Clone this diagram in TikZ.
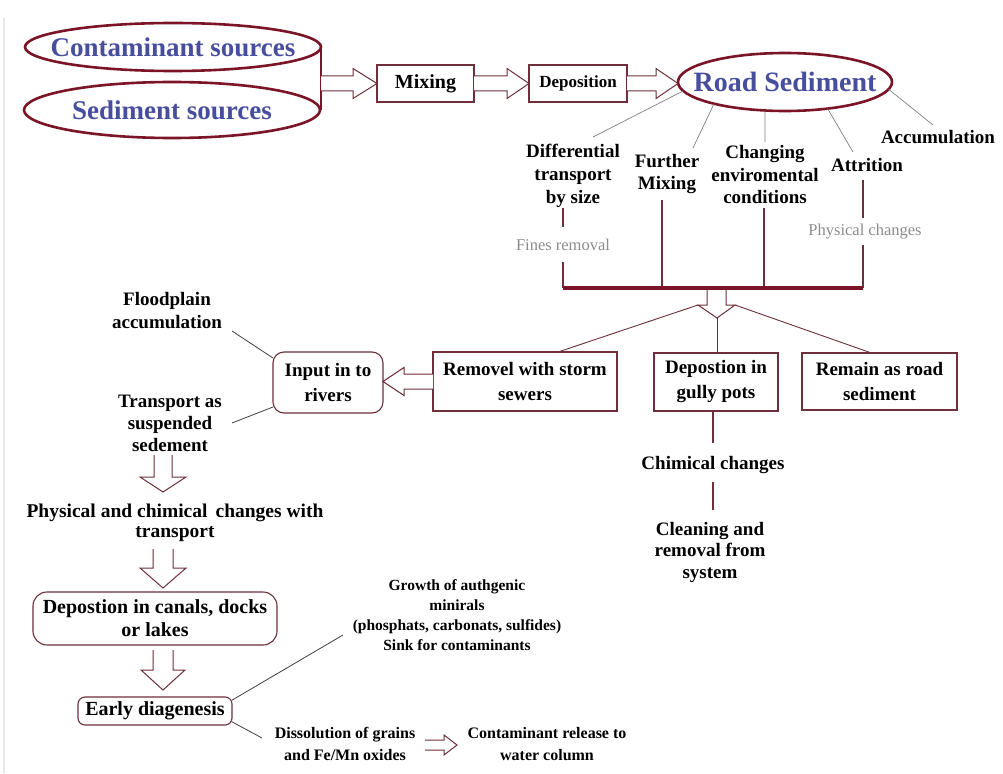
\documentclass[tikz,border=0pt]{standalone}
\usepackage{fontspec}
\setmainfont{Liberation Serif}
\usetikzlibrary{shapes.geometric,calc}
\definecolor{dred}{RGB}{122,20,38}
\definecolor{bred}{RGB}{110,47,58}
\definecolor{sblue}{RGB}{72,78,158}
\definecolor{lgray}{RGB}{140,140,140}
\newcommand\fs[2]{\fontsize{#1}{#2}\selectfont}
% hollow block arrow: #1 start, #2 tip, #3 shaft half width, #4 head half width, #5 head length
\newcommand\blockarr[5]{%
  \coordinate (hb) at ($(#2)!#5pt!(#1)$);
  \draw[harr] ($(#1)!#3pt!90:(#2)$) -- ($(hb)!#3pt!90:(#2)$) -- ($(hb)!#4pt!90:(#2)$) -- (#2)
    -- ($(hb)!#4pt!-90:(#2)$) -- ($(hb)!#3pt!-90:(#2)$) -- ($(#1)!#3pt!-90:(#2)$);
}
\tikzset{
 srcell/.style={ellipse, draw=dred, line width=2.6pt, inner sep=0pt, outer sep=0pt},
 etext/.style={inner sep=0pt, text=sblue, font=\fs{27}{30}\bfseries},
 box/.style={draw=bred, line width=1.1pt, inner sep=0pt, outer sep=0pt, align=center, font=\fs{19}{25}\bfseries},
 rbox/.style={box, rounded corners=11pt},
 lbl/.style={inner sep=0pt, align=center, font=\fs{19}{23}\bfseries},
 glbl/.style={inner sep=0pt, text=lgray, font=\fs{16.5}{20}},
 gline/.style={draw=gray, line width=0.7pt},
 dline/.style={draw=black!75, line width=0.8pt},
 vline/.style={draw=bred, line width=1.1pt},
 busline/.style={draw=dred, line width=3.5pt},
 harr/.style={draw=bred, line width=1pt, fill=white, line join=miter},
}
\begin{document}
\begin{tikzpicture}[x=1pt,y=-1pt]
\useasboundingbox (0,0) rectangle (1003,773);
\fill[white] (0,0) rectangle (1003,773);
\draw[gray!18, line width=2pt] (4,18) -- (4,773);

% sources
\node[srcell, minimum width=296pt, minimum height=48pt] (cs) at (173,47) {};
\node[etext] (cst) at (cs.center) {Contaminant sources};
\node[srcell, minimum width=296pt, minimum height=56pt] (ss) at (172,110) {};
\node[etext] (sst) at (ss.center) {Sediment sources};
\draw[dred, line width=2.6pt] (cs.east) -- (cs.east |- ss.east);

\node[box, minimum width=97pt, minimum height=37pt, font=\fs{20}{24}\bfseries] (mix) at (425.5,83.5) {Mixing};
\node[box, minimum width=98pt, minimum height=37pt, font=\fs{17}{20}\bfseries] (dep) at (578,83.5) {Deposition};
\node[srcell, minimum width=214pt, minimum height=58pt] (rs) at (785,82) {};
\node[etext, font=\fs{28}{30}\bfseries] (rst) at (rs.center) {Road Sediment};

\coordinate (a1s) at (mix.west -| cs.east);
\blockarr{a1s}{mix.west}{7.5}{15}{24}
\blockarr{mix.east}{dep.west}{7.5}{15}{22}
\coordinate (a3e) at (rs.west |- dep.east);
\blockarr{dep.east}{a3e}{7.5}{15}{22}

% labels around road sediment
\node[lbl] (dts) at (573,176) {Differential\\transport\\by size};
\node[lbl, font=\fs{19}{22}\bfseries] (fm) at (667,174) {Further\\Mixing};
\node[lbl, font=\fs{19}{22.5}\bfseries] (cec) at (765,175) {Changing\\enviromental\\conditions};
\node[lbl] (att) at (867,165) {Attrition};
\node[lbl] (acc) at (938,137) {Accumulation};
\node[glbl] (fr) at (563,245) {Fines removal};
\node[glbl] (pc) at (865,232) {Physical changes};

\coordinate (l1) at (593,137);
\coordinate (l2) at (693,148);
\coordinate (l3) at (765,142);
\coordinate (l4) at (853,152);
\coordinate (l5) at (933,125);
\draw[gline] (rs.185) -- (l1);
\draw[gline] (rs.197) -- (l2);
\draw[gline] (rs.235) -- (l3);
\draw[gline] (rs.328) -- (l4);
\draw[gline] (rs.356) -- (l5);

% bus
\coordinate (busL) at (563,288);
\coordinate (busR) at (863,288);
\coordinate (v1a) at (563,208); \coordinate (v1b) at (563,227); \coordinate (v1c) at (563,262);
\coordinate (v2a) at (662,200);
\coordinate (v3a) at (764,208);
\coordinate (v4a) at (863,180); \coordinate (v4b) at (863,218); \coordinate (v4c) at (863,245);
\draw[vline] (v1a) -- (v1b);
\draw[vline] (v1c) -- (busL);
\draw[vline] (v2a) -- (v2a |- busL);
\draw[vline] (v3a) -- (v3a |- busL);
\draw[vline] (v4a) -- (v4b);
\draw[vline] (v4c) -- (busR);

% distribution arrow
\coordinate (ba1) at (707,289);
\coordinate (ba2) at (707,305);
\coordinate (baL) at (698,305);
\coordinate (baT) at (717,318);
\coordinate (baR) at (735,305);
\coordinate (ba3) at (726,305);
\coordinate (ba4) at (726,289);
\draw[harr, fill=none] (ba1) -- (ba2) -- (baL) -- (baT) -- (baR) -- (ba3) -- (ba4);
\draw[busline] (busL) -- (busR);

% three boxes
\node[box, minimum width=184pt, minimum height=59pt] (rem) at (525,381.5) {Removel with storm\\sewers};
\node[box, minimum width=124pt, minimum height=58pt] (gp) at (716,382) {Depostion in\\gully pots};
\node[box, minimum width=155pt, minimum height=57pt] (rrs) at (879.5,381.5) {Remain as road\\sediment};
\coordinate (remT) at (558,352);
\coordinate (rrsT) at (870,352.5);
\draw[vline, line width=0.9pt] (baL) -- (remT);
\draw[vline, line width=0.9pt] (baR) -- (rrsT);
\draw[vline, line width=0.9pt] (baT) -- (baT |- gp.north);

% gully pots chain
\node[lbl] (chc) at (713,465) {Chimical changes};
\node[lbl, font=\fs{19}{21.5}\bfseries] (crs) at (710,552) {Cleaning and\\removal from\\system};
\coordinate (g1) at (713,443);
\coordinate (g2) at (713,482);
\coordinate (g3) at (713,510);
\draw[vline] (gp.south -| g1) -- (g1);
\draw[vline] (g2) -- (g3);

% rivers
\node[rbox, minimum width=110pt, minimum height=61pt] (inp) at (328,382.5) {Input in to\\rivers};
\coordinate (a4e) at (inp.east |- rem.west);
\blockarr{rem.west}{a4e}{7.5}{14}{21}
\node[lbl] (fpa) at (167,310.5) {Floodplain\\accumulation};
\node[lbl, font=\fs{19}{22}\bfseries] (tss) at (170,423) {Transport as\\suspended\\sedement};
\coordinate (f1) at (232,331);
\coordinate (t1) at (232,423);
\draw[dline] (inp.156) -- (f1);
\draw[dline] (inp.204) -- (t1);

\coordinate (d1s) at (163,455); \coordinate (d1e) at (163,492);
\blockarr{d1s}{d1e}{9}{23}{15}
\node[lbl, font=\fs{19.5}{20}\bfseries] (pcc) at (175,523) {Physical and chimical\, changes with\\transport};
\coordinate (d2s) at (163,549); \coordinate (d2e) at (163,588);
\blockarr{d2s}{d2e}{10}{23}{20}
\node[rbox, minimum width=244pt, minimum height=53pt, font=\fs{20}{23}\bfseries, rounded corners=14pt] (dcl) at (155,618.5) {Depostion in canals, docks\\or lakes};
\coordinate (d3s) at (163,650); \coordinate (d3e) at (163,690);
\blockarr{d3s}{d3e}{10}{22}{20}
\node[rbox, minimum width=154pt, minimum height=28pt, font=\fs{20}{23}\bfseries, rounded corners=7pt] (ed) at (155,711) {Early diagenesis};

\node[lbl, font=\fs{15.5}{20}\bfseries] (gam) at (457,615) {Growth of authgenic\\minirals\\(phosphats, carbonats, sulfides)\\Sink for contaminants};
\node[lbl, font=\fs{16}{22}\bfseries] (dgo) at (345,744) {Dissolution of grains\\and Fe/Mn oxides};
\node[lbl, font=\fs{16}{22}\bfseries] (crw) at (547,744) {Contaminant release to\\water column};
\coordinate (e1) at (343,635);
\coordinate (e2) at (262,738);
\draw[dline] (ed.8) -- (e1);
\draw[dline] (ed.-8) -- (e2);
\coordinate (s1) at (425,745); \coordinate (s2) at (457,745);
\blockarr{s1}{s2}{5}{10}{13}
\end{tikzpicture}
\end{document}
